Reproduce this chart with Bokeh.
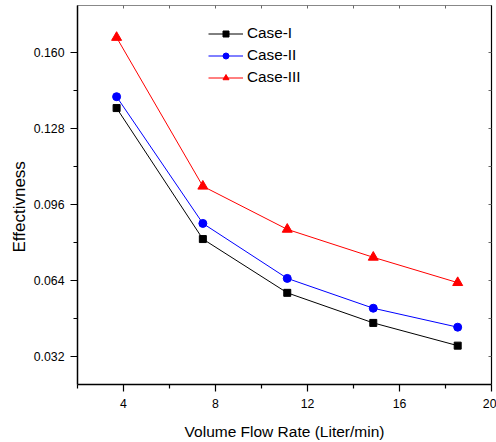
from bokeh.plotting import figure
from bokeh.models import (Range1d, LinearAxis, FixedTicker, PrintfTickFormatter,
                          CustomJSTickFormatter, Legend, LegendItem, Title)
from bokeh.embed import file_html
from bokeh.resources import INLINE

# ---- data ----
flow_rate = [3.7, 7.45, 11.12, 14.86, 18.53]
case_1 = [0.1367, 0.0814, 0.0587, 0.0460, 0.0364]
case_2 = [0.1415, 0.0880, 0.0648, 0.0522, 0.0442]
case_3 = [0.1665, 0.1037, 0.0855, 0.0737, 0.0630]

x_ticks = [4, 8, 12, 16, 20]
x_minor = [2, 6, 10, 14, 18]
y_ticks = [0.032, 0.064, 0.096, 0.128, 0.160]
y_minor = [0.048, 0.080, 0.112, 0.144]

FONT = "Liberation Sans"

p = figure(width=496, height=442, output_backend="svg", toolbar_location=None,
           x_range=Range1d(2, 20), y_range=Range1d(0.02, 0.18),
           x_axis_location=None, y_axis_location=None,
           min_border_left=77, min_border_right=5, min_border_top=5,
           min_border_bottom=57)
p.grid.visible = False
p.outline_line_color = None
p.background_fill_color = "white"
p.border_fill_color = "white"

# bottom axis
xa = LinearAxis(ticker=FixedTicker(ticks=x_ticks, minor_ticks=x_minor),
                axis_label="Volume Flow Rate (Liter/min)")
# left axis
ya = LinearAxis(ticker=FixedTicker(ticks=y_ticks, minor_ticks=y_minor),
                formatter=PrintfTickFormatter(format="%.3f"))
for ax in (xa, ya):
    ax.axis_line_color = "black"
    ax.axis_line_width = 1.5
    ax.major_tick_line_color = "black"
    ax.minor_tick_line_color = "black"
    ax.major_tick_line_width = 1.2
    ax.minor_tick_line_width = 1.2
    ax.major_tick_out = 7
    ax.major_tick_in = 0
    ax.minor_tick_out = 4
    ax.minor_tick_in = 0
    ax.major_label_text_font = FONT
    ax.major_label_text_font_size = "12.3px"
    ax.major_label_text_color = "black"
    ax.axis_label_text_font = FONT
    ax.axis_label_text_font_style = "normal"
    ax.axis_label_text_color = "black"
xa.major_label_standoff = 7
xa.axis_label_standoff = 12
xa.axis_label_text_font_size = "15.5px"
ya.major_label_standoff = 6
p.add_layout(xa, "below")
p.add_layout(ya, "left")

# y-axis title, placed a little below the frame centre as in the reference
ytitle = Title(text="Effectivness", align="left", offset=132, standoff=4,
               text_font=FONT, text_font_size="17px", text_font_style="normal",
               text_color="black")
p.add_layout(ytitle, "left")

# top and right axes: inward ticks, no labels
empty = CustomJSTickFormatter(code="return ''")
ta = LinearAxis(ticker=FixedTicker(ticks=x_ticks + x_minor, minor_ticks=[]),
                formatter=empty)
ra = LinearAxis(ticker=FixedTicker(ticks=y_ticks + y_minor, minor_ticks=[]),
                formatter=empty)
for ax, col in ((ta, "#888888"), (ra, "black")):
    ax.axis_line_color = col
    ax.axis_line_width = 1.2
    ax.major_tick_line_color = "#666666"
    ax.major_tick_in = 3
    ax.major_tick_out = 0
    ax.minor_tick_in = 0
    ax.minor_tick_out = 0
    ax.major_label_standoff = 0
    ax.major_label_text_font_size = "0px"
p.add_layout(ta, "above")
p.add_layout(ra, "right")

# series
l1 = p.line(flow_rate, case_1, line_color="black", line_width=1)
s1 = p.scatter(flow_rate, case_1, marker="square", size=7, color="black")
l2 = p.line(flow_rate, case_2, line_color="blue", line_width=1)
s2 = p.scatter(flow_rate, case_2, marker="circle", size=8, color="blue")
l3 = p.line(flow_rate, case_3, line_color="red", line_width=1)
s3 = p.scatter(flow_rate, case_3, marker="triangle", size=10, color="red")

legend = Legend(items=[LegendItem(label="Case-I", renderers=[l1, s1]),
                       LegendItem(label="Case-II", renderers=[l2, s2]),
                       LegendItem(label="Case-III", renderers=[l3, s3])],
                location=(131, 297), orientation="vertical")
legend.border_line_color = None
legend.background_fill_alpha = 0
legend.padding = 0
legend.margin = 0
legend.spacing = 2
legend.glyph_width = 35
legend.glyph_height = 15
legend.label_height = 20
legend.label_standoff = 4
legend.label_text_font = FONT
legend.label_text_font_size = "15.3px"
legend.label_text_color = "black"
p.add_layout(legend, "center")

open("out.html", "w").write(file_html(p, INLINE))
